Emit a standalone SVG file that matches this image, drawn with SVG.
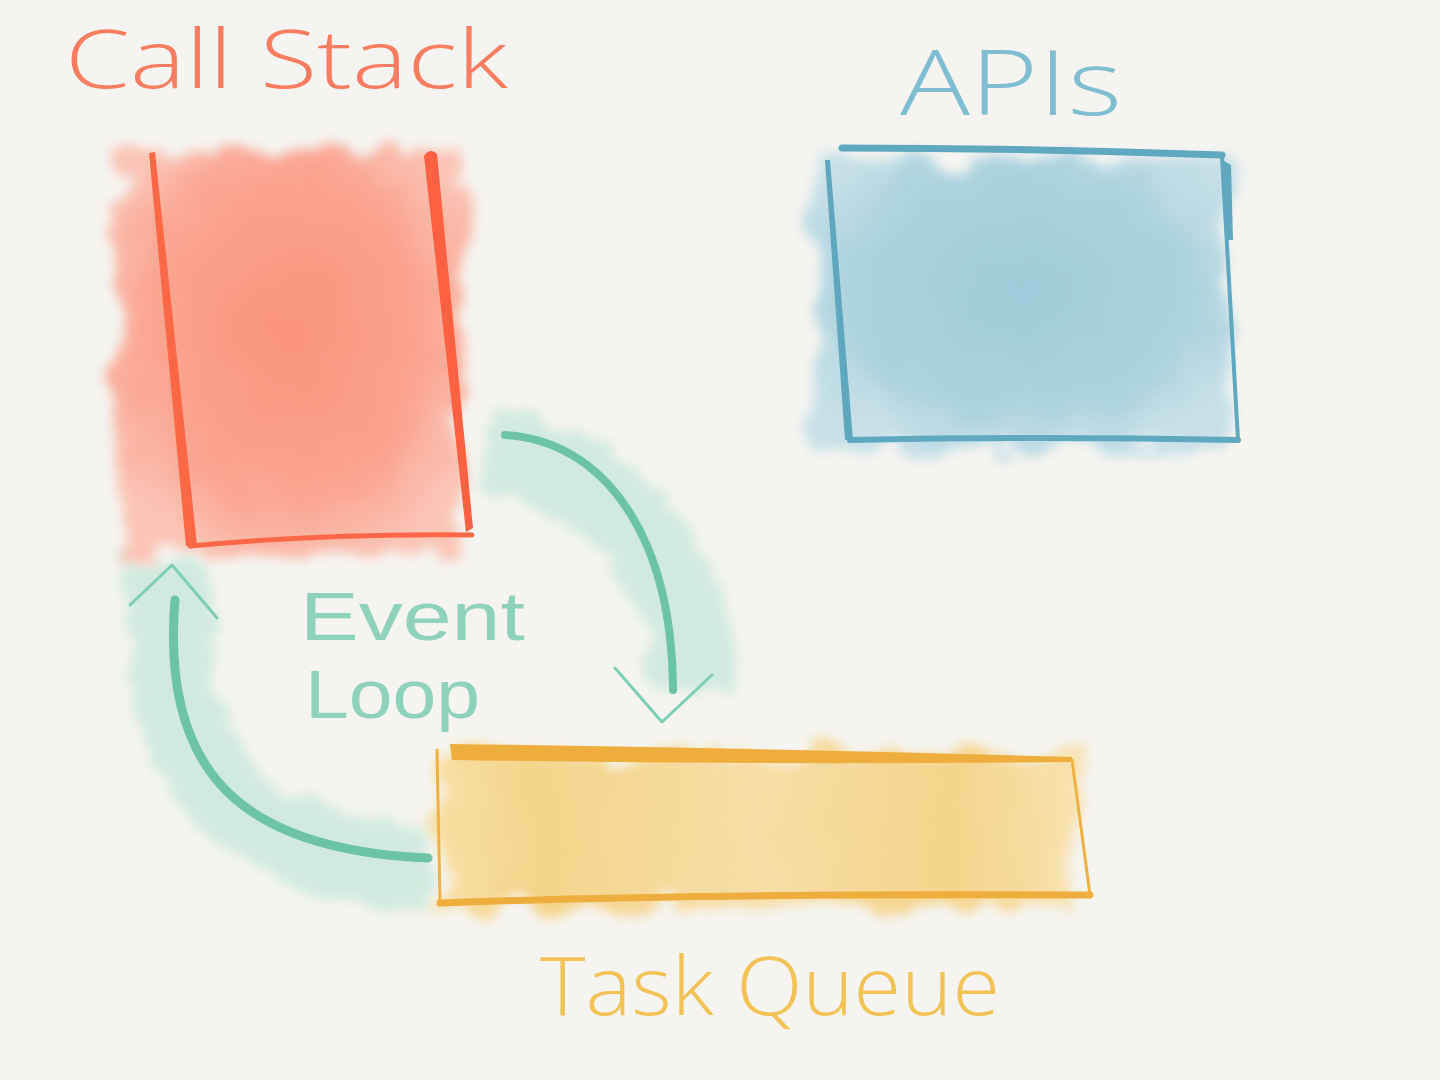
<svg xmlns="http://www.w3.org/2000/svg" width="1440" height="1080" viewBox="0 0 1440 1080">
<defs>
<style>
.lbl{font-family:"Open Sans","Liberation Sans",sans-serif;font-weight:300;}
.el{font-family:"Liberation Sans",Arial,sans-serif;font-weight:400;}
</style>
<filter id="wc" x="-30%" y="-30%" width="160%" height="160%">
<feTurbulence type="fractalNoise" baseFrequency="0.02" numOctaves="3" seed="4" result="n"/>
<feDisplacementMap in="SourceGraphic" in2="n" scale="50" xChannelSelector="R" yChannelSelector="G" result="d"/>
<feGaussianBlur in="d" stdDeviation="6"/>
</filter>
<filter id="glow" x="-30%" y="-30%" width="160%" height="160%">
<feTurbulence type="fractalNoise" baseFrequency="0.03" numOctaves="3" seed="9" result="n"/>
<feDisplacementMap in="SourceGraphic" in2="n" scale="35" xChannelSelector="R" yChannelSelector="G" result="d"/>
<feGaussianBlur in="d" stdDeviation="6"/>
</filter>
<radialGradient id="gRed" cx="0.5" cy="0.45" r="0.6">
<stop offset="0" stop-color="#f9937b"/>
<stop offset="0.7" stop-color="#faa591"/>
<stop offset="1" stop-color="#fbc4b6"/>
</radialGradient>
<radialGradient id="gBlue" cx="0.5" cy="0.45" r="0.6">
<stop offset="0" stop-color="#9fcbd9"/>
<stop offset="0.7" stop-color="#acd3df"/>
<stop offset="1" stop-color="#c8e1e8"/>
</radialGradient>
<linearGradient id="gYel" x1="0" y1="0" x2="1" y2="0">
<stop offset="0" stop-color="#f8dfa4"/>
<stop offset="0.15" stop-color="#f5d48a"/>
<stop offset="0.5" stop-color="#f7dea6"/>
<stop offset="0.8" stop-color="#f5d48a"/>
<stop offset="1" stop-color="#f8e2b0"/>
</linearGradient>
</defs>
<rect width="1440" height="1080" fill="#f5f4f0"/>

<g id="connectors">
<g filter="url(#glow)" opacity="0.9">
<path d="M485,450 C 610,470 690,560 695,690" fill="none" stroke="#cde9de" stroke-width="85"/>
<path d="M430,870 C 250,860 150,770 170,560" fill="none" stroke="#cde9de" stroke-width="85"/>
</g>
</g>

<g id="call-stack">
<rect x="120" y="150" width="340" height="405" fill="url(#gRed)" filter="url(#wc)"/>
<path d="M149,153 L155,152 L197,545 L186,546 Z" fill="#fc6746"/>
<path d="M424,156 Q430,147 437,154 L473,528 L466,532 Z" fill="#fd6142"/>
<path d="M190,546 Q330,533 472,535" fill="none" stroke="#fd6748" stroke-width="5" stroke-linecap="round"/>
<text class="lbl" x="65" y="88" font-size="82" fill="#fa7d61" textLength="443" lengthAdjust="spacingAndGlyphs">Call Stack</text>
</g>

<g id="apis">
<rect x="815" y="160" width="410" height="290" fill="url(#gBlue)" filter="url(#wc)"/>
<path d="M842,148 Q1030,148 1222,155" fill="none" stroke="#5fa8c0" stroke-width="7" stroke-linecap="round"/>
<path d="M825,160 L830,160 L853,440 L845,440 Z" fill="#5fa6bf"/>
<path d="M850,440 Q1040,436 1238,440" fill="none" stroke="#5fa8c0" stroke-width="6" stroke-linecap="round"/>
<path d="M1222,157 L1238,440" fill="none" stroke="#5fa8c0" stroke-width="4" stroke-linecap="round"/>
<path d="M1222,160 L1231,165 L1233,240 L1227,240 Z" fill="#5fa8c0"/>
<text class="lbl" x="900" y="115" font-size="90" fill="#7fbdd0" textLength="222" lengthAdjust="spacingAndGlyphs">APIs</text>
</g>

<g id="task-queue">
<rect x="440" y="752" width="640" height="155" fill="url(#gYel)" filter="url(#wc)"/>
<path d="M450,744 Q760,748 1072,757 L1072,762 Q760,765 452,760 Z" fill="#eeae3e"/>
<path d="M437,750 L440,902" fill="none" stroke="#efb241" stroke-width="3" stroke-linecap="round"/>
<path d="M1072,760 L1090,895" fill="none" stroke="#efb241" stroke-width="3" stroke-linecap="round"/>
<path d="M440,903 Q700,893 1090,895" fill="none" stroke="#eeae3e" stroke-width="7" stroke-linecap="round"/>
<text class="lbl" x="540" y="1015" font-size="82" fill="#f2c255" textLength="460" lengthAdjust="spacingAndGlyphs">Task Queue</text>
</g>

<g id="event-loop">
<path d="M505,435 C 600,440 672,530 673,690" fill="none" stroke="#6cc3a5" stroke-width="8" stroke-linecap="round"/>
<path d="M615,668 L662,722 L712,675" fill="none" stroke="#7ccfb4" stroke-width="3" stroke-linecap="round" stroke-linejoin="round"/>
<path d="M428,858 C 250,850 160,780 175,600" fill="none" stroke="#6cc3a5" stroke-width="9" stroke-linecap="round"/>
<path d="M130,605 L172,565 L217,618" fill="none" stroke="#7ccfb4" stroke-width="3" stroke-linecap="round" stroke-linejoin="round"/>
<text class="el" x="300" y="640" font-size="68" fill="#8fd2bb" textLength="225" lengthAdjust="spacingAndGlyphs">Event</text>
<text class="el" x="305" y="718" font-size="68" fill="#8fd2bb" textLength="175" lengthAdjust="spacingAndGlyphs">Loop</text>
</g>
</svg>
